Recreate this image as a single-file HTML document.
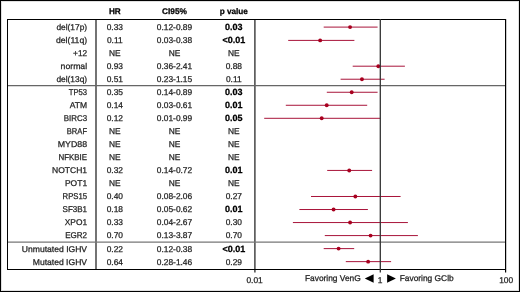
<!DOCTYPE html>
<html><head><meta charset="utf-8"><style>
html,body{margin:0;padding:0;background:#fff;}
body{width:520px;height:292px;overflow:hidden;}
svg{display:block;will-change:transform;text-rendering:geometricPrecision;}
text{font-family:"Liberation Sans",sans-serif;fill:#222;stroke:#222;stroke-width:0.25px;}
.b{font-weight:bold;fill:#000;stroke:#000;}
</style></head><body>
<svg width="520" height="292" viewBox="0 0 520 292">
<rect x="0" y="0" width="520" height="292" fill="#fff"/>

<rect x="0.5" y="0.5" width="519" height="291" fill="none" stroke="#000" stroke-width="1"/>
<rect x="1.5" y="1.5" width="517" height="289" fill="none" stroke="#000" stroke-opacity="0.12" stroke-width="1"/>
<g stroke-width="1" fill="none">
<line x1="96" y1="19" x2="96" y2="269.5" stroke="#383838" stroke-width="1.4"/>
<line x1="254.9" y1="19" x2="254.9" y2="272.5" stroke="#383838" stroke-width="1.4"/>
<line x1="7" y1="85.6" x2="505.5" y2="85.6" stroke="#666" stroke-width="1.4"/>
<line x1="7" y1="242.1" x2="505.5" y2="242.1" stroke="#777" stroke-width="1.4"/>
<line x1="505.6" y1="19" x2="505.6" y2="272.5" stroke="#000" stroke-width="1.2"/>
<rect x="7.5" y="19.5" width="498" height="250" stroke="#000" stroke-width="1"/>
</g>
<text class="b" x="114.8" y="14.3" font-size="8.2" text-anchor="middle">HR</text>
<text class="b" x="174.5" y="14.3" font-size="8.2" text-anchor="middle" textLength="25" lengthAdjust="spacingAndGlyphs">CI95%</text>
<text class="b" x="233.8" y="14.3" font-size="8.2" text-anchor="middle">p value</text>
<text x="87.1" y="30.0" font-size="8.4" text-anchor="end" textLength="30.72" lengthAdjust="spacingAndGlyphs">del(17p)</text>
<text x="114.8" y="30.0" font-size="8.4" text-anchor="middle">0.33</text>
<text x="174.5" y="30.0" font-size="8.4" text-anchor="middle">0.12-0.89</text>
<text class="b" x="233.8" y="30.0" font-size="9.0" text-anchor="middle">0.03</text>
<line x1="323.70" y1="27.10" x2="377.60" y2="27.10" stroke="#a8143a" stroke-width="1.0"/>
<circle cx="350.09" cy="27.10" r="1.95" fill="#a8001f"/>
<text x="87.1" y="43.03" font-size="8.4" text-anchor="end" textLength="31.1" lengthAdjust="spacingAndGlyphs">del(11q)</text>
<text x="114.8" y="43.03" font-size="8.4" text-anchor="middle">0.11</text>
<text x="174.5" y="43.03" font-size="8.4" text-anchor="middle">0.03-0.38</text>
<text class="b" x="233.8" y="43.03" font-size="9.0" text-anchor="middle">&lt;0.01</text>
<line x1="288.20" y1="40.40" x2="354.40" y2="40.40" stroke="#a8143a" stroke-width="1.0"/>
<circle cx="320.15" cy="40.40" r="1.95" fill="#a8001f"/>
<text x="87.1" y="56.06" font-size="8.4" text-anchor="end" textLength="14.05" lengthAdjust="spacingAndGlyphs">+12</text>
<text x="114.8" y="56.06" font-size="8.4" text-anchor="middle">NE</text>
<text x="174.5" y="56.06" font-size="8.4" text-anchor="middle">NE</text>
<text x="233.8" y="56.06" font-size="8.4" text-anchor="middle">NE</text>
<text x="87.1" y="69.09" font-size="8.4" text-anchor="end" textLength="26.48" lengthAdjust="spacingAndGlyphs">normal</text>
<text x="114.8" y="69.09" font-size="8.4" text-anchor="middle">0.93</text>
<text x="174.5" y="69.09" font-size="8.4" text-anchor="middle">0.36-2.41</text>
<text x="233.8" y="69.09" font-size="8.4" text-anchor="middle">0.88</text>
<line x1="352.70" y1="66.19" x2="404.90" y2="66.19" stroke="#a8143a" stroke-width="1.0"/>
<circle cx="378.32" cy="66.19" r="1.95" fill="#a8001f"/>
<text x="87.1" y="82.12" font-size="8.4" text-anchor="end" textLength="30.72" lengthAdjust="spacingAndGlyphs">del(13q)</text>
<text x="114.8" y="82.12" font-size="8.4" text-anchor="middle">0.51</text>
<text x="174.5" y="82.12" font-size="8.4" text-anchor="middle">0.23-1.15</text>
<text x="233.8" y="82.12" font-size="8.4" text-anchor="middle">0.11</text>
<line x1="340.60" y1="79.22" x2="384.60" y2="79.22" stroke="#a8143a" stroke-width="1.0"/>
<circle cx="361.95" cy="79.22" r="1.95" fill="#a8001f"/>
<text x="87.1" y="95.15" font-size="8.4" text-anchor="end" textLength="18.38" lengthAdjust="spacingAndGlyphs">TP53</text>
<text x="114.8" y="95.15" font-size="8.4" text-anchor="middle">0.35</text>
<text x="174.5" y="95.15" font-size="8.4" text-anchor="middle">0.14-0.89</text>
<text class="b" x="233.8" y="95.15" font-size="9.0" text-anchor="middle">0.03</text>
<line x1="326.80" y1="92.25" x2="377.60" y2="92.25" stroke="#a8143a" stroke-width="1.0"/>
<circle cx="351.69" cy="92.25" r="1.95" fill="#a8001f"/>
<text x="87.1" y="108.18" font-size="8.4" text-anchor="end" textLength="17.31" lengthAdjust="spacingAndGlyphs">ATM</text>
<text x="114.8" y="108.18" font-size="8.4" text-anchor="middle">0.14</text>
<text x="174.5" y="108.18" font-size="8.4" text-anchor="middle">0.03-0.61</text>
<text class="b" x="233.8" y="108.18" font-size="9.0" text-anchor="middle">0.01</text>
<line x1="285.80" y1="105.28" x2="367.20" y2="105.28" stroke="#a8143a" stroke-width="1.0"/>
<circle cx="326.72" cy="105.28" r="1.95" fill="#a8001f"/>
<text x="87.1" y="121.21" font-size="8.4" text-anchor="end" textLength="23.34" lengthAdjust="spacingAndGlyphs">BIRC3</text>
<text x="114.8" y="121.21" font-size="8.4" text-anchor="middle">0.12</text>
<text x="174.5" y="121.21" font-size="8.4" text-anchor="middle">0.01-0.99</text>
<text class="b" x="233.8" y="121.21" font-size="9.0" text-anchor="middle">0.05</text>
<line x1="264.20" y1="118.31" x2="380.40" y2="118.31" stroke="#a8143a" stroke-width="1.0"/>
<circle cx="321.70" cy="118.31" r="1.95" fill="#a8001f"/>
<text x="87.1" y="134.24" font-size="8.4" text-anchor="end" textLength="20.3" lengthAdjust="spacingAndGlyphs">BRAF</text>
<text x="114.8" y="134.24" font-size="8.4" text-anchor="middle">NE</text>
<text x="174.5" y="134.24" font-size="8.4" text-anchor="middle">NE</text>
<text x="233.8" y="134.24" font-size="8.4" text-anchor="middle">NE</text>
<text x="87.1" y="147.27" font-size="8.4" text-anchor="end" textLength="29.31" lengthAdjust="spacingAndGlyphs">MYD88</text>
<text x="114.8" y="147.27" font-size="8.4" text-anchor="middle">NE</text>
<text x="174.5" y="147.27" font-size="8.4" text-anchor="middle">NE</text>
<text x="233.8" y="147.27" font-size="8.4" text-anchor="middle">NE</text>
<text x="87.1" y="160.3" font-size="8.4" text-anchor="end" textLength="28.64" lengthAdjust="spacingAndGlyphs">NFKBIE</text>
<text x="114.8" y="160.3" font-size="8.4" text-anchor="middle">NE</text>
<text x="174.5" y="160.3" font-size="8.4" text-anchor="middle">NE</text>
<text x="233.8" y="160.3" font-size="8.4" text-anchor="middle">NE</text>
<text x="87.1" y="173.33" font-size="8.4" text-anchor="end" textLength="35.04" lengthAdjust="spacingAndGlyphs">NOTCH1</text>
<text x="114.8" y="173.33" font-size="8.4" text-anchor="middle">0.32</text>
<text x="174.5" y="173.33" font-size="8.4" text-anchor="middle">0.14-0.72</text>
<text class="b" x="233.8" y="173.33" font-size="9.0" text-anchor="middle">0.01</text>
<line x1="327.20" y1="170.43" x2="372.10" y2="170.43" stroke="#a8143a" stroke-width="1.0"/>
<circle cx="349.25" cy="170.43" r="1.95" fill="#a8001f"/>
<text x="87.1" y="186.36" font-size="8.4" text-anchor="end" textLength="22.14" lengthAdjust="spacingAndGlyphs">POT1</text>
<text x="114.8" y="186.36" font-size="8.4" text-anchor="middle">NE</text>
<text x="174.5" y="186.36" font-size="8.4" text-anchor="middle">NE</text>
<text x="233.8" y="186.36" font-size="8.4" text-anchor="middle">NE</text>
<text x="87.1" y="199.39" font-size="8.4" text-anchor="end" textLength="24.52" lengthAdjust="spacingAndGlyphs">RPS15</text>
<text x="114.8" y="199.39" font-size="8.4" text-anchor="middle">0.40</text>
<text x="174.5" y="199.39" font-size="8.4" text-anchor="middle">0.08-2.06</text>
<text x="233.8" y="199.39" font-size="8.4" text-anchor="middle">0.27</text>
<line x1="311.00" y1="196.49" x2="400.60" y2="196.49" stroke="#a8143a" stroke-width="1.0"/>
<circle cx="355.33" cy="196.49" r="1.95" fill="#a8001f"/>
<text x="87.1" y="212.42" font-size="8.4" text-anchor="end" textLength="24.58" lengthAdjust="spacingAndGlyphs">SF3B1</text>
<text x="114.8" y="212.42" font-size="8.4" text-anchor="middle">0.18</text>
<text x="174.5" y="212.42" font-size="8.4" text-anchor="middle">0.05-0.62</text>
<text class="b" x="233.8" y="212.42" font-size="9.0" text-anchor="middle">0.01</text>
<line x1="299.40" y1="209.52" x2="367.90" y2="209.52" stroke="#a8143a" stroke-width="1.0"/>
<circle cx="333.57" cy="209.52" r="1.95" fill="#a8001f"/>
<text x="87.1" y="225.45" font-size="8.4" text-anchor="end" textLength="22.41" lengthAdjust="spacingAndGlyphs">XPO1</text>
<text x="114.8" y="225.45" font-size="8.4" text-anchor="middle">0.33</text>
<text x="174.5" y="225.45" font-size="8.4" text-anchor="middle">0.04-2.67</text>
<text x="233.8" y="225.45" font-size="8.4" text-anchor="middle">0.30</text>
<line x1="292.90" y1="222.55" x2="407.90" y2="222.55" stroke="#a8143a" stroke-width="1.0"/>
<circle cx="350.09" cy="222.55" r="1.95" fill="#a8001f"/>
<text x="87.1" y="238.48" font-size="8.4" text-anchor="end" textLength="21.87" lengthAdjust="spacingAndGlyphs">EGR2</text>
<text x="114.8" y="238.48" font-size="8.4" text-anchor="middle">0.70</text>
<text x="174.5" y="238.48" font-size="8.4" text-anchor="middle">0.13-3.87</text>
<text x="233.8" y="238.48" font-size="8.4" text-anchor="middle">0.70</text>
<line x1="324.80" y1="235.58" x2="417.90" y2="235.58" stroke="#a8143a" stroke-width="1.0"/>
<circle cx="370.58" cy="235.58" r="1.95" fill="#a8001f"/>
<text x="87.1" y="251.51" font-size="8.4" text-anchor="end" textLength="65.26" lengthAdjust="spacingAndGlyphs">Unmutated IGHV</text>
<text x="114.8" y="251.51" font-size="8.4" text-anchor="middle">0.22</text>
<text x="174.5" y="251.51" font-size="8.4" text-anchor="middle">0.12-0.38</text>
<text class="b" x="233.8" y="251.51" font-size="9.0" text-anchor="middle">&lt;0.01</text>
<line x1="323.70" y1="248.61" x2="354.20" y2="248.61" stroke="#a8143a" stroke-width="1.0"/>
<circle cx="338.60" cy="248.61" r="1.95" fill="#a8001f"/>
<text x="87.1" y="264.54" font-size="8.4" text-anchor="end" textLength="54.32" lengthAdjust="spacingAndGlyphs">Mutated IGHV</text>
<text x="114.8" y="264.54" font-size="8.4" text-anchor="middle">0.64</text>
<text x="174.5" y="264.54" font-size="8.4" text-anchor="middle">0.28-1.46</text>
<text x="233.8" y="264.54" font-size="8.4" text-anchor="middle">0.29</text>
<line x1="345.80" y1="261.64" x2="391.10" y2="261.64" stroke="#a8143a" stroke-width="1.0"/>
<circle cx="368.14" cy="261.64" r="1.95" fill="#a8001f"/>
<line x1="380.3" y1="19" x2="380.3" y2="272.5" stroke="#333" stroke-width="1.3"/>
<text x="254.6" y="282.8" font-size="8.4" text-anchor="middle">0.01</text>
<text x="380.2" y="282.8" font-size="8.4" text-anchor="middle">1</text>
<text x="506.2" y="282.8" font-size="8.4" text-anchor="middle">100</text>
<text x="360.8" y="281.1" font-size="8.4" text-anchor="end">Favoring VenG</text>
<text x="399.7" y="281.1" font-size="8.4">Favoring GClb</text>
<path d="M364.8 278.5 L373.6 274.3 L373.6 282.8 Z" fill="#000"/>
<path d="M395.9 278.5 L387.1 274.3 L387.1 282.8 Z" fill="#000"/>
</svg>
</body></html>
